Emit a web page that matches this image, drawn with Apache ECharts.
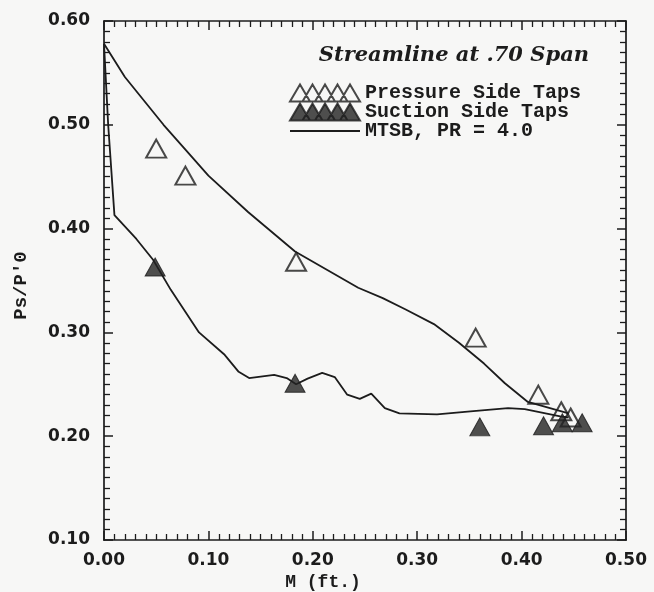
<!DOCTYPE html>
<html><head><meta charset="utf-8">
<script src="https://cdn.jsdelivr.net/npm/echarts@6/dist/echarts.min.js"></script>
<style>html,body{margin:0;padding:0;background:#f7f7f6}#c{width:654px;height:592px}</style>
</head><body><div id="c"></div>
<script>
// ---- data ----
const titleText = 'Streamline at .70 Span';
const xTickValues = [0.00, 0.10, 0.20, 0.30, 0.40, 0.50];
const yTickValues = [0.10, 0.20, 0.30, 0.40, 0.50, 0.60];

const pressureTapX = [0.050, 0.078, 0.184, 0.356, 0.416, 0.438, 0.447];
const pressureTapY = [0.477, 0.451, 0.368, 0.295, 0.240, 0.224, 0.218];

const suctionTapX = [0.049, 0.183, 0.360, 0.421, 0.439, 0.458];
const suctionTapY = [0.363, 0.251, 0.209, 0.210, 0.213, 0.213];

const mtsbPressureX = [0.000, 0.020, 0.057, 0.078, 0.100, 0.138, 0.183, 0.2435, 0.267, 0.289, 0.316, 0.340, 0.364, 0.384, 0.406, 0.445];
const mtsbPressureY = [0.578, 0.546, 0.500, 0.476, 0.451, 0.416, 0.378, 0.343, 0.333, 0.322, 0.308, 0.290, 0.270, 0.251, 0.233, 0.222];

const mtsbSuctionX = [0.000, 0.004, 0.010, 0.031, 0.047, 0.064, 0.091, 0.115, 0.129, 0.139, 0.163, 0.175, 0.184, 0.195, 0.209, 0.221, 0.233, 0.245, 0.256, 0.269, 0.283, 0.319, 0.351, 0.387, 0.403, 0.437, 0.445];
const mtsbSuctionY = [0.578, 0.500, 0.413, 0.390, 0.370, 0.341, 0.300, 0.279, 0.262, 0.256, 0.259, 0.256, 0.250, 0.2555, 0.261, 0.257, 0.240, 0.236, 0.241, 0.227, 0.222, 0.221, 0.224, 0.227, 0.226, 0.219, 0.218];

const zip = (xs, ys) => xs.map((x, i) => [x, ys[i]]);

const ink = '#1c1c1c';
const tickFont = {fontFamily: 'DejaVu Sans', fontWeight: 'bold', fontSize: 17, color: ink};
const labelFont = {fontFamily: 'Liberation Mono', fontWeight: 'bold', fontSize: 19, color: ink};

function axisCommon(showLabels, margin) {
  return {
    type: 'value',
    axisLine: {show: true, onZero: false, lineStyle: {color: ink, width: 1.7}},
    axisTick: {show: true, inside: true, length: 9, lineStyle: {color: ink, width: 1.5}},
    minorTick: {show: true, splitNumber: 10, length: 6, lineStyle: {color: ink, width: 1.3}},
    splitLine: {show: false},
    axisLabel: {show: showLabels, margin: margin, formatter: v => v.toFixed(2), ...tickFont, showMinLabel: true, showMaxLabel: true, hideOverlap: false},
  };
}

const openTriIcon = 'path://M0,17L10,0L20,17ZM12.5,17L22.5,0L32.5,17ZM25,17L35,0L45,17ZM37.5,17L47.5,0L57.5,17ZM50,17L60,0L70,17Z';

const chart = echarts.init(document.getElementById('c'), null, {renderer: 'canvas'});
chart.setOption({
  backgroundColor: '#f7f7f6',
  animation: false,
  title: {
    text: titleText, right: 60, top: 40,
    textStyle: {fontFamily: 'DejaVu Serif', fontStyle: 'italic', fontWeight: 'bold', fontSize: 21, color: ink}
  },
  legend: {
    orient: 'vertical', left: 289, top: 83, padding: 0,
    itemWidth: 70, itemHeight: 17, itemGap: -1,
    selectedMode: false,
    textStyle: {fontFamily: 'Liberation Mono', fontWeight: 'bold', fontSize: 20, color: ink, lineHeight: 15},
    data: [
      {name: 'Pressure Side Taps', icon: openTriIcon},
      {name: 'Suction Side Taps', icon: openTriIcon},
      {name: 'MTSB, PR = 4.0', itemStyle: {opacity: 0, color: 'rgba(0,0,0,0)', borderWidth: 0}}
    ]
  },
  grid: {left: 104, right: 28, top: 21, bottom: 52, containLabel: false, outerBoundsMode: 'none'},
  xAxis: [
    Object.assign(axisCommon(true, 12), {
      min: xTickValues[0], max: xTickValues[xTickValues.length - 1], interval: 0.1, position: 'bottom',
      name: 'M (ft.)', nameLocation: 'middle', nameGap: 33,
      nameTextStyle: Object.assign({padding: [0, 84, 0, 0]}, labelFont, {fontSize: 18})
    }),
    Object.assign(axisCommon(false, 8), {
      min: xTickValues[0], max: xTickValues[xTickValues.length - 1], interval: 0.1, position: 'top'
    })
  ],
  yAxis: [
    Object.assign(axisCommon(true, 14), {
      min: yTickValues[0], max: yTickValues[yTickValues.length - 1], interval: 0.1, position: 'left',
      name: "Ps/P'0", nameLocation: 'middle', nameGap: 73,
      nameTextStyle: Object.assign({padding: [0, 10, 0, 0]}, labelFont)
    }),
    Object.assign(axisCommon(false, 8), {
      min: yTickValues[0], max: yTickValues[yTickValues.length - 1], interval: 0.1, position: 'right'
    })
  ],
  series: [
    {
      name: 'MTSB, PR = 4.0', type: 'line', data: zip(mtsbPressureX, mtsbPressureY),
      symbol: 'none', lineStyle: {color: ink, width: 1.8}, itemStyle: {color: ink}, z: 2, silent: true
    },
    {
      name: 'MTSB, PR = 4.0', type: 'line', data: zip(mtsbSuctionX, mtsbSuctionY),
      symbol: 'none', lineStyle: {color: ink, width: 1.8}, itemStyle: {color: ink}, z: 2, silent: true
    },
    {
      name: 'Pressure Side Taps', type: 'scatter', data: zip(pressureTapX, pressureTapY),
      symbol: 'triangle', symbolSize: [20, 18],
      itemStyle: {color: 'rgba(0,0,0,0)', borderColor: ink, borderWidth: 2}, z: 3, silent: true
    },
    {
      name: 'Suction Side Taps', type: 'scatter', data: zip(suctionTapX, suctionTapY),
      symbol: 'triangle', symbolSize: [20, 18],
      itemStyle: {color: '#232323', borderColor: ink, borderWidth: 1}, z: 3, silent: true
    }
  ]
});
</script>
</body></html>
